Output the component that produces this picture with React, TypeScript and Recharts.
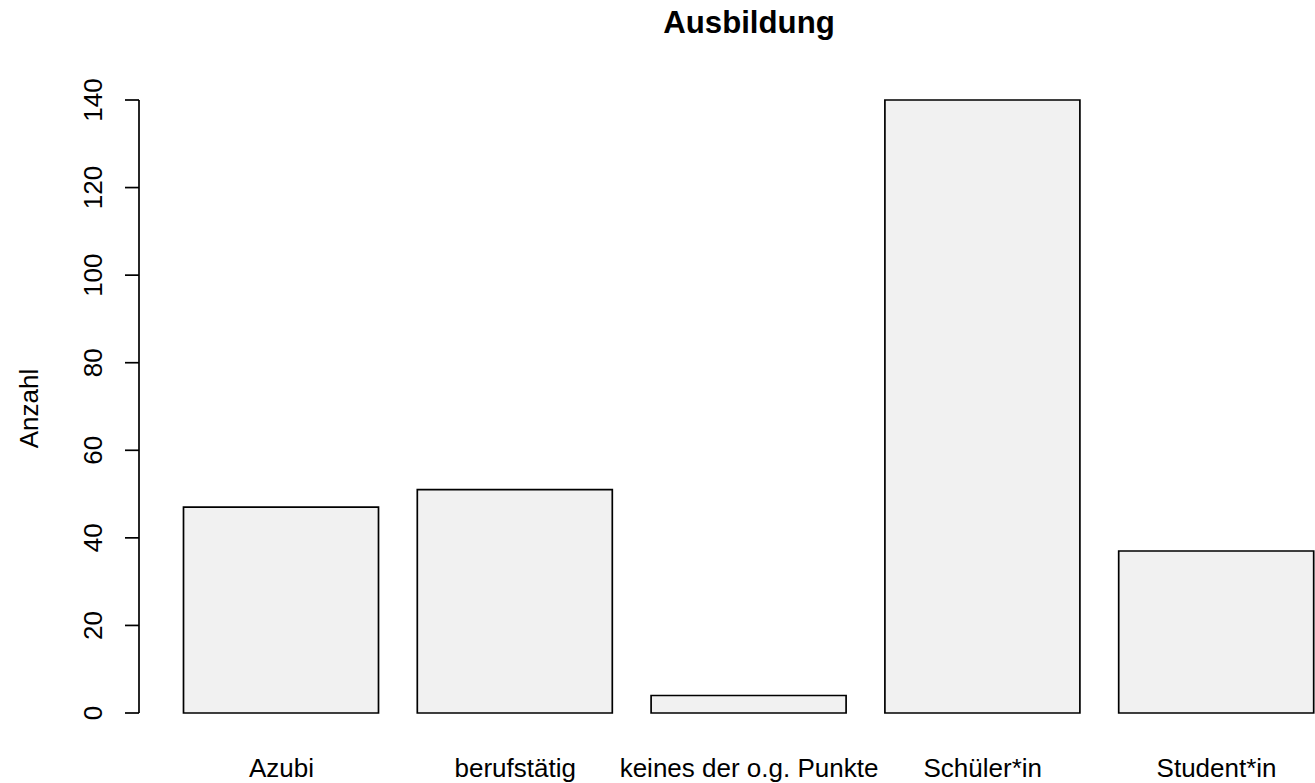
import * as React from "react";
import { BarChart, Bar, XAxis, YAxis, Label } from "recharts";

const categories = ["Azubi", "berufstätig", "keines der o.g. Punkte", "Schüler*in", "Student*in"];
const counts = [47, 51, 4, 140, 37];
const yTicks = [0, 20, 40, 60, 80, 100, 120, 140];

const data = categories.map((name, i) => ({ name, value: counts[i] }));

const FONT = '"Liberation Sans", Arial, Helvetica, sans-serif';

function YTick(props: any) {
  const { x, y, payload } = props;
  const bx = x - 23;
  return (
    <text
      x={bx}
      y={y}
      transform={`rotate(-90, ${bx}, ${y})`}
      textAnchor="middle"
      fontSize={26}
      fontFamily={FONT}
      fill="#000"
    >
      {payload.value}
    </text>
  );
}

function XTick(props: any) {
  const { x, y, payload } = props;
  return (
    <text x={x} y={y + 64} textAnchor="middle" fontSize={26} fontFamily={FONT} fill="#000">
      {payload.value}
    </text>
  );
}

export default function App() {
  return (
    <div
      style={{
        position: "absolute",
        left: 0,
        top: 0,
        width: 1315,
        height: 783,
        overflow: "hidden",
        background: "#fff",
      }}
    >
      <div
        style={{
          position: "absolute",
          left: 0,
          top: 6.5,
          width: 1498,
          textAlign: "center",
          fontFamily: FONT,
          fontWeight: "bold",
          fontSize: 31.2,
          lineHeight: "31.2px",
          color: "#000",
        }}
      >
        Ausbildung
      </div>
      <BarChart
        width={1340}
        height={783}
        data={data}
        margin={{ top: 100, right: 6.5, bottom: 0, left: 0 }}
      >
        <XAxis
          dataKey="name"
          axisLine={false}
          tickLine={false}
          tickSize={0}
          tickMargin={0}
          height={70}
          padding={{ left: 25.5, right: 0 }}
          tick={<XTick />}
          interval={0}
        />
        <YAxis
          width={139}
          domain={[0, 140]}
          ticks={yTicks}
          tickSize={14}
          tickMargin={0}
          axisLine={{ stroke: "#000", strokeWidth: 1.7 }}
          tickLine={{ stroke: "#000", strokeWidth: 1.7 }}
          tick={<YTick />}
          interval={0}
        >
          <Label
            content={(p: any) => {
              const vb = p.viewBox || { x: 0, y: 100, height: 613 };
              const lx = 38;
              const ly = vb.y + vb.height / 2 + 2;
              return (
                <text
                  x={lx}
                  y={ly}
                  transform={`rotate(-90, ${lx}, ${ly})`}
                  textAnchor="middle"
                  fontSize={26}
                  fontFamily={FONT}
                  fill="#000"
                >
                  Anzahl
                </text>
              );
            }}
          />
        </YAxis>
        <Bar
          dataKey="value"
          fill="#f1f1f1"
          stroke="#000"
          strokeWidth={1.7}
          barSize={195}
          isAnimationActive={false}
        />
      </BarChart>
    </div>
  );
}
